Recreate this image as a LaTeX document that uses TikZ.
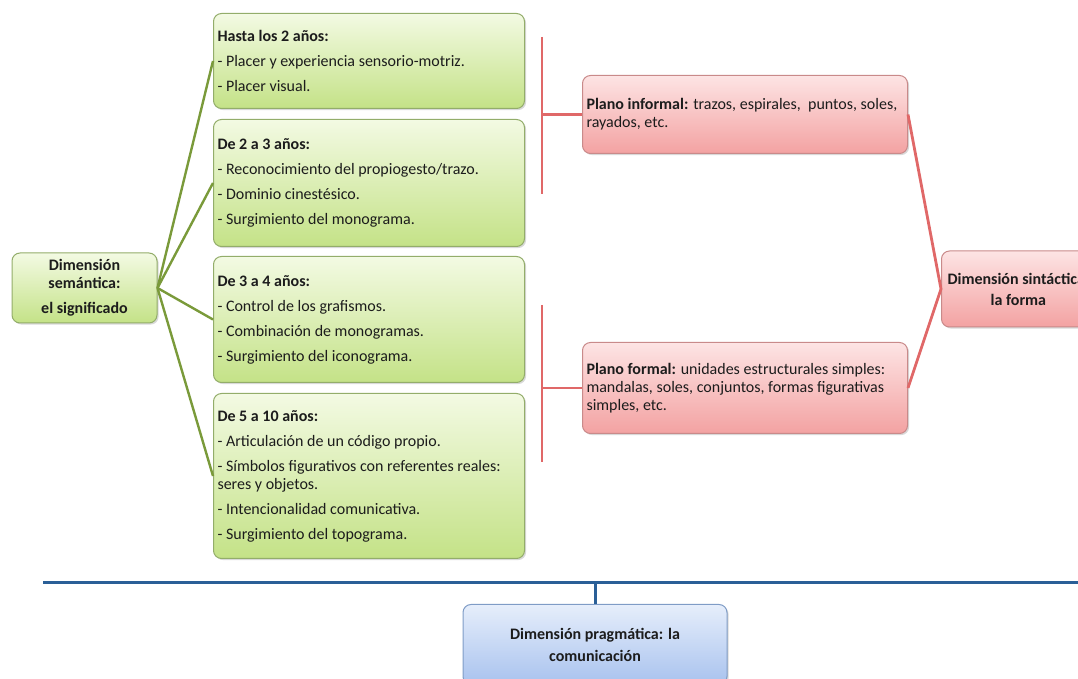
\documentclass[tikz,border=0pt]{standalone}
\usepackage{fontspec}
\setmainfont{Carlito}
\usetikzlibrary{shadows}

\definecolor{verdelin}{HTML}{7A9A3A}
\definecolor{verdeborde}{HTML}{93AD6A}
\definecolor{verdeclaro}{HTML}{F3FAE3}
\definecolor{verdeosc}{HTML}{C4E287}
\definecolor{rojolin}{HTML}{E06868}
\definecolor{rojoborde}{HTML}{C98A8A}
\definecolor{rosaclaro}{HTML}{FDE4E4}
\definecolor{rosaosc}{HTML}{F3A2A2}
\definecolor{azullin}{HTML}{2A5F97}
\definecolor{azulborde}{HTML}{7F9CC6}
\definecolor{azulclaro}{HTML}{E6EEFB}
\definecolor{azulosc}{HTML}{A8C2EE}
\definecolor{texto}{HTML}{1C1C1C}

\newcommand{\letracaja}{\fontsize{8}{9}\selectfont}

\tikzset{
  caja/.style={draw, rounded corners=4pt, line width=0.5pt, inner xsep=2pt, inner ysep=0pt,
    drop shadow={shadow xshift=0.8pt, shadow yshift=-0.8pt, opacity=0.3},
    text=texto, font=\letracaja},
  verde/.style={caja, draw=verdeborde, top color=verdeclaro, bottom color=verdeosc,
    anchor=north west, text width=151.5pt, align=flush left},
  rosa/.style={caja, draw=rojoborde, top color=rosaclaro, bottom color=rosaosc},
  azul/.style={caja, draw=azulborde, top color=azulclaro, bottom color=azulosc},
  lineaverde/.style={verdelin, line width=1.2pt},
  linearoja/.style={rojolin, line width=1.4pt},
  lineaazul/.style={azullin, line width=1.5pt},
}

\begin{document}
\begin{tikzpicture}[x=0.5pt, y=-0.5pt]
\useasboundingbox (0,0) rectangle (1078,679);

% dimension semantica y sus etapas
\node[caja, draw=verdeborde, top color=verdeclaro, bottom color=verdeosc,
  minimum width=72.5pt, minimum height=35pt, align=center, font=\letracaja\bfseries]
  (sem) at (84.5,288) {Dimensión\\semántica:\\[3.5pt]el significado};

\node[verde, minimum height=47.5pt] (h2) at (213,13)
  {\textbf{Hasta los 2 años:}\\[3.5pt]
   - Placer y experiencia sensorio-motriz.\\[3.5pt]
   - Placer visual.};
\node[verde, minimum height=63.5pt] (d3) at (213,119)
  {\textbf{De 2 a 3 años:}\\[3.5pt]
   - Reconocimiento del propiogesto/trazo.\\[3.5pt]
   - Dominio cinestésico.\\[3.5pt]
   - Surgimiento del monograma.};
\node[verde, minimum height=63pt] (d4) at (213,256)
  {\textbf{De 3 a 4 años:}\\[3.5pt]
   - Control de los grafismos.\\[3.5pt]
   - Combinación de monogramas.\\[3.5pt]
   - Surgimiento del iconograma.};
\node[verde, minimum height=82.5pt] (d10) at (213,393)
  {\textbf{De 5 a 10 años:}\\[3.5pt]
   - Articulación de un código propio.\\[3.5pt]
   - Símbolos figurativos con referentes reales:\\
   seres y objetos.\\[3.5pt]
   - Intencionalidad comunicativa.\\[3.5pt]
   - Surgimiento del topograma.};

\foreach \n in {h2,d3,d4,d10}
  \draw[lineaverde] (sem.east) -- (\n.west);

% planos de la dimension sintactica
\node[rosa, anchor=north west, text width=158.5pt, minimum height=39pt, align=flush left]
  (inf) at (582,75)
  {\textbf{Plano informal:} trazos, espirales,\ \ puntos, soles,\\rayados, etc.};
\node[rosa, anchor=north west, text width=158.5pt, minimum height=45.5pt, align=flush left]
  (for) at (582,342)
  {\textbf{Plano formal:} unidades estructurales simples:\\
   mandalas, soles, conjuntos, formas figurativas\\ simples, etc.};
\node[rosa, anchor=west, inner xsep=3pt, minimum height=38pt, align=center,
  font=\letracaja\bfseries]
  (sin) at (941,289) {Dimensión sintáctica:\\[1.5pt]la forma};

\coordinate (ia) at (542,37);
\coordinate (ib) at (542,194);
\coordinate (fa) at (542,305);
\coordinate (fb) at (542,462);
\draw[linearoja] (ia) -- (ib);
\draw[linearoja] (ia |- inf.west) -- (inf.west);
\draw[linearoja] (fa) -- (fb);
\draw[linearoja] (fa |- for.west) -- (for.west);
\draw[linearoja] (inf.east) -- (sin.west) -- (for.east);

% dimension pragmatica
\coordinate (pa) at (43,583);
\coordinate (pb) at (1090,583);
\node[azul, anchor=north, minimum width=132pt, minimum height=40pt, align=center,
  font=\fontsize{8}{11}\selectfont\bfseries]
  (prag) at (595,604) {Dimensión pragmática: la\\comunicación};
\draw[lineaazul] (pa) -- (pb);
\draw[lineaazul] (prag.north |- pa) -- (prag.north);
\end{tikzpicture}
\end{document}
